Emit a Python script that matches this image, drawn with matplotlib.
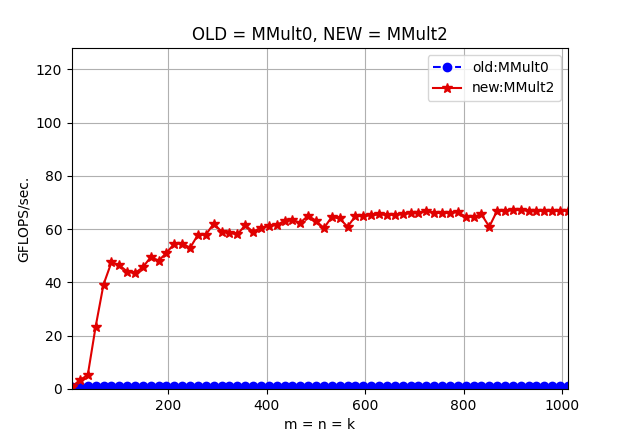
import numpy as np
import matplotlib
matplotlib.use('Agg')
import matplotlib.pyplot as plt

# problem sizes m = n = k
sizes = list(range(4, 1013, 16))

# GFLOPS of the old version (MMult0), roughly flat
old_gflops = [0.9, 1.1, 1.2, 1.2, 1.2, 1.2, 1.2, 1.2, 1.2, 1.2, 1.2, 1.2, 1.2, 1.2, 1.2, 1.2,
              1.2, 1.2, 1.2, 1.2, 1.2, 1.2, 1.2, 1.2, 1.2, 1.2, 1.2, 1.2, 1.2, 1.2, 1.2, 1.2,
              1.2, 1.2, 1.2, 1.2, 1.2, 1.2, 1.2, 1.2, 1.2, 1.2, 1.2, 1.2, 1.2, 1.2, 1.2, 1.2,
              1.2, 1.2, 1.2, 1.2, 1.2, 1.2, 1.2, 1.2, 1.2, 1.2, 1.2, 1.2, 1.2, 1.2, 1.2, 1.2]

# GFLOPS of the new version (MMult2)
new_gflops = [0.8, 3.4, 5.2, 23.4, 39.2, 47.5, 46.5, 44.1, 43.5, 45.7, 49.5, 48.2, 51.1, 54.6, 54.6, 53.0,
              57.9, 57.9, 62.1, 59.1, 58.7, 58.0, 61.5, 59.0, 60.6, 61.2, 61.6, 63.1, 63.4, 62.4, 65.1, 63.1,
              60.4, 64.6, 64.0, 60.9, 64.9, 64.9, 65.2, 65.5, 65.4, 65.4, 65.6, 66.0, 66.2, 66.7, 66.2, 66.0,
              66.1, 66.4, 64.7, 64.6, 65.6, 60.9, 66.9, 66.9, 67.1, 67.2, 66.9, 66.9, 66.9, 66.7, 66.9, 66.9]

fig, ax = plt.subplots(figsize=(6.23, 4.47), dpi=100)
fig.subplots_adjust(left=0.1156, right=0.9117, top=0.8926, bottom=0.1298)

ax.plot(sizes, old_gflops, 'bo--', label='old:MMult0')
ax.plot(sizes, new_gflops, '*-', color='#e00000', markersize=7.5, label='new:MMult2')

ax.set_xlim(sizes[0], sizes[-1])
ax.set_ylim(0, 128)
ax.set_yticks([0, 20, 40, 60, 80, 100, 120])
ax.set_xlabel('m = n = k')
ax.set_ylabel('GFLOPS/sec.')
ax.set_title('OLD = MMult0, NEW = MMult2')
ax.grid(True)
ax.legend(loc='upper right')

fig.savefig('out.png', dpi=100)
